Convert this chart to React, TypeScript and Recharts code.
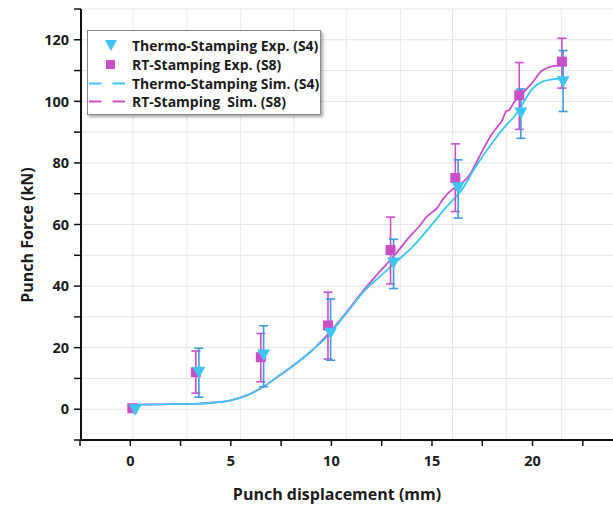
import React from 'react';
import {
  ComposedChart, Line, Scatter, ErrorBar, XAxis, YAxis, CartesianGrid, ReferenceLine, Label,
} from 'recharts';

// simulation curves (x in mm, force in kN)
const thermoSimX = [0.13, 1.47, 3.46, 4.2, 5.0, 5.79, 6.59, 7.43, 8.27, 9.02, 9.76, 10.75, 11.65, 12.39, 13.24, 14.03, 14.87, 15.72, 16.51, 17.1, 17.99, 18.84, 19.09, 19.49, 19.98, 20.48, 21.17, 21.57];
const thermoSimY = [1.5, 1.6, 1.8, 2.2, 2.9, 4.5, 7.2, 11, 15, 19, 23.4, 31.2, 38.5, 43, 48, 52.7, 59, 65.7, 71.5, 78, 86.5, 93.3, 95, 99, 104, 106.4, 107.3, 107.5];

const rtSimX = [0.13, 1.47, 3.46, 4.2, 5.0, 5.79, 6.59, 7.43, 8.27, 9.02, 9.91, 10.75, 11.65, 12.39, 13.14, 13.88, 14.38, 14.72, 15.02, 15.27, 15.52, 15.87, 16.36, 16.86, 17.35, 17.99, 18.25, 18.5, 18.69, 18.84, 19.09, 19.34, 19.98, 20.48, 21.17, 21.57];
const rtSimY = [1.5, 1.6, 1.8, 2.2, 2.9, 4.5, 7.2, 11, 15, 19, 25, 31.5, 39, 44.6, 50, 56, 59.5, 62.4, 64, 65.5, 68, 70.6, 72.8, 76, 82, 89.5, 91.7, 94, 96.8, 97.2, 99.8, 101.5, 106, 110, 111.6, 111.8];

// experiments: mean, lower and upper end of error bar
const thermoExpX = [0.25, 3.41, 6.63, 9.96, 13.09, 16.3, 19.42, 21.52];
const thermoExpY = [-0.2, 12, 17.6, 24.7, 47.5, 71.9, 96.2, 106.4];
const thermoExpLow = [null, 3.9, 7.3, 15.9, 39.2, 62.1, 88, 96.7];
const thermoExpHigh = [null, 19.8, 27.1, 35.8, 55.2, 81, 104, 116.5];

const rtExpX = [0.1, 3.26, 6.49, 9.83, 12.94, 16.16, 19.34, 21.46];
const rtExpY = [0.3, 12, 16.9, 27.2, 51.7, 75.1, 102, 112.9];
const rtExpLow = [null, 5.2, 8.9, 16.3, 40.7, 64.2, 90.9, 104.3];
const rtExpHigh = [null, 18.9, 24.6, 38, 62.4, 86.2, 112.6, 120.5];

const xTicks = [-2.5, 0, 2.5, 5, 7.5, 10, 12.5, 15, 17.5, 20, 22.5];
const yTicks = [-10, 0, 10, 20, 30, 40, 50, 60, 70, 80, 90, 100, 110, 120, 130];
const gridX = [0.13, 2.81, 5.49, 8.13, 10.76, 13.44, 16.02, 18.7, 21.43];

const CYAN = '#3ec5f1';
const MAGENTA = '#c94fc9';
const BLUE_ERR = '#3d9ae0';
const FONT = '"Open Sans", Lato, sans-serif';

const simData = (xs: number[], ys: number[]) => xs.map((x, i) => ({ x, y: ys[i] }));
const expData = (xs: number[], ys: number[], lo: (number | null)[], hi: (number | null)[]) =>
  xs.map((x, i) => ({
    x,
    y: ys[i],
    err: lo[i] == null ? null : [ys[i] - (lo[i] as number), (hi[i] as number) - ys[i]],
  }));

const Triangle = (props: any) => {
  const { cx, cy } = props;
  if (cx == null || cy == null) return null;
  return <polygon points={`${cx - 6.5},${cy - 5.5} ${cx + 6.5},${cy - 5.5} ${cx},${cy + 6}`} fill={CYAN} />;
};

const Square = (props: any) => {
  const { cx, cy } = props;
  if (cx == null || cy == null) return null;
  return <rect x={cx - 5} y={cy - 5} width={10} height={10} fill={MAGENTA} />;
};

const XTick = (props: any) => {
  const { x, y, payload } = props;
  if (payload.value % 5 !== 0) return null;
  return (
    <text x={x} y={y} dy="0.71em" textAnchor="middle" fontFamily={FONT} fontWeight={700} fontSize={14.5} fill="#1c1c1c">
      {payload.value}
    </text>
  );
};

const YTick = (props: any) => {
  const { x, y, payload } = props;
  if (payload.value % 20 !== 0) return null;
  return (
    <text x={x} y={y} dy="0.36em" textAnchor="end" fontFamily={FONT} fontWeight={700} fontSize={14.5} fill="#1c1c1c">
      {payload.value}
    </text>
  );
};

const legendRows = [
  { kind: 'tri', label: 'Thermo-Stamping Exp. (S4)' },
  { kind: 'sq', label: 'RT-Stamping Exp. (S8)' },
  { kind: 'cyanLine', label: 'Thermo-Stamping Sim. (S4)' },
  { kind: 'magLine', label: 'RT-Stamping  Sim. (S8)' },
];

function ChartLegend() {
  return (
    <div
      style={{
        position: 'absolute', left: 87, top: 30, width: 234, height: 85,
        border: '1px solid #8a8a8a', background: '#fff', boxShadow: '2px 2px 3px rgba(0,0,0,0.35)',
        fontFamily: FONT, fontWeight: 700, fontSize: 14, color: '#1c1c1c', boxSizing: 'border-box',
      }}
    >
      {legendRows.map((r, i) => (
        <div key={i} style={{ position: 'absolute', left: 0, top: 5 + i * 18.8, height: 19, width: '100%', display: 'flex', alignItems: 'center' }}>
          <svg width={44} height={19} style={{ flex: 'none' }}>
            {r.kind === 'tri' && <polygon points="17,4 29,4 23,15" fill={CYAN} />}
            {r.kind === 'sq' && <rect x={18} y={5} width={9} height={9} fill={MAGENTA} />}
            {r.kind === 'cyanLine' && <line x1={1} y1={9.5} x2={38} y2={9.5} stroke={CYAN} strokeWidth={2} strokeDasharray="12.5 11" />}
            {r.kind === 'magLine' && <line x1={1} y1={9.5} x2={38} y2={9.5} stroke={MAGENTA} strokeWidth={2} strokeDasharray="12.5 11" />}
          </svg>
          <span style={{ whiteSpace: 'pre' }}>{r.label}</span>
        </div>
      ))}
    </div>
  );
}

export default function App() {
  return (
    <div style={{ position: 'absolute', left: 0, top: 0, width: 613, height: 507, background: '#fff' }}>
      <ComposedChart width={613} height={507} margin={{ top: 9, right: 0, bottom: 0, left: 0 }}>
        <CartesianGrid vertical={false} stroke="#e3e3e3" strokeWidth={1} />
        {gridX.map(g => (
          <ReferenceLine key={g} x={g} stroke="#e8e8e8" strokeWidth={1} />
        ))}
        <XAxis
          type="number"
          dataKey="x"
          domain={[-2.45, 24]}
          ticks={xTicks}
          allowDataOverflow
          height={67}
          axisLine={{ stroke: '#111', strokeWidth: 2 }}
          tickLine={{ stroke: '#111', strokeWidth: 1.5 }}
          tickSize={6}
          tickMargin={10}
          tick={<XTick />}
          interval={0}
        >
          <Label
            content={() => (
              <text x={337} y={494} dy="0.36em" textAnchor="middle" fontFamily={FONT} fontWeight={700} fontSize={16} fill="#1c1c1c">
                Punch displacement (mm)
              </text>
            )}
          />
        </XAxis>
        <YAxis
          type="number"
          domain={[-10, 130]}
          ticks={yTicks}
          allowDataOverflow
          width={81}
          axisLine={{ stroke: '#111', strokeWidth: 2 }}
          tickLine={{ stroke: '#111', strokeWidth: 1.5 }}
          tickSize={7}
          tickMargin={5}
          tick={<YTick />}
          interval={0}
        >
          <Label
            content={() => (
              <text x={27} y={235} dy="0.36em" textAnchor="middle" transform="rotate(-90 27 235)" fontFamily={FONT} fontWeight={700} fontSize={16} fill="#1c1c1c">
                Punch Force (kN)
              </text>
            )}
          />
        </YAxis>
        <Line data={simData(rtSimX, rtSimY)} dataKey="y" type="monotone" stroke={MAGENTA} strokeWidth={1.8} dot={false} isAnimationActive={false} />
        <Line data={simData(thermoSimX, thermoSimY)} dataKey="y" type="monotone" stroke={CYAN} strokeWidth={1.8} dot={false} isAnimationActive={false} />
        <Scatter data={expData(rtExpX, rtExpY, rtExpLow, rtExpHigh)} dataKey="y" shape={<Square />} isAnimationActive={false}>
          <ErrorBar dataKey="err" direction="y" width={4.5} stroke={MAGENTA} strokeWidth={1.6} />
        </Scatter>
        <Scatter data={expData(thermoExpX, thermoExpY, thermoExpLow, thermoExpHigh)} dataKey="y" shape={<Triangle />} isAnimationActive={false}>
          <ErrorBar dataKey="err" direction="y" width={4.5} stroke={BLUE_ERR} strokeWidth={1.6} />
        </Scatter>
      </ComposedChart>
      <ChartLegend />
    </div>
  );
}
